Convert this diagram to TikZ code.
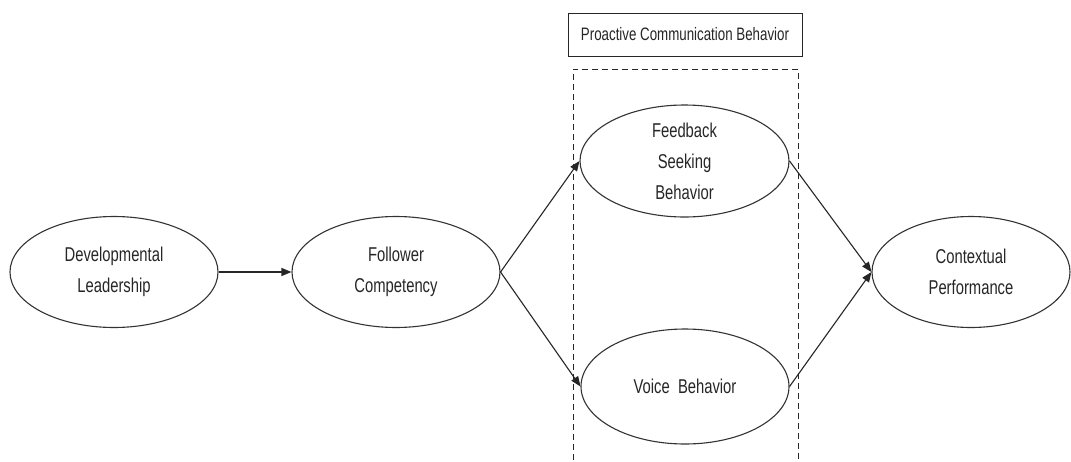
\documentclass[tikz,border=0pt]{standalone}
\usepackage{fontspec}
\setmainfont[FakeStretch=0.74]{Liberation Sans}
\usetikzlibrary{arrows.meta,shapes.geometric}
\begin{document}
\begin{tikzpicture}[x=1pt,y=-1pt,
  construct/.style={draw=black!80,line width=1.1pt,ellipse,inner sep=0pt,align=center,
    font=\fontsize{20}{31}\selectfont,text=black!85},
  link/.style={draw=black!85,line width=1.1pt,-{Triangle[length=10pt,width=8pt]}},
  groupbox/.style={draw=black!85,line width=1pt,dashed,dash pattern=on 6pt off 4pt},
  titlebox/.style={draw=black!85,line width=1pt,font=\fontsize{18}{22}\selectfont,text=black!85}]
\useasboundingbox (0,0) rectangle (1071,461);
\fill[white] (0,0) rectangle (1071,461);
% group
\draw[groupbox] (573,480) -- (573,69) -- (798,69) -- (798,480);
\node[titlebox,minimum width=234pt,minimum height=43pt,inner sep=0pt] (title) at (685,34.5) {Proactive Communication Behavior};
% constructs
\node[construct,minimum width=208pt,minimum height=111pt] (dl) at (114,272) {Developmental\\Leadership};
\node[construct,minimum width=208pt,minimum height=111pt] (fc) at (396,272) {Follower\\Competency};
\node[construct,minimum width=209pt,minimum height=112pt] (fs) at (684.5,161) {Feedback\\Seeking\\Behavior};
\node[construct,minimum width=208pt,minimum height=115pt] (vb) at (685,386.5) {Voice\ \ Behavior};
\node[construct,minimum width=198pt,minimum height=111pt] (cp) at (971,272) {Contextual\\Performance};
% links
\draw[link] (dl.east) -- (fc.west);
\draw[link] (fc.east) -- (fs.west);
\draw[link] (fc.east) -- (vb.west);
\draw[link] (fs.east) -- (cp.west);
\draw[link] (vb.east) -- (cp.west);
\end{tikzpicture}
\end{document}
